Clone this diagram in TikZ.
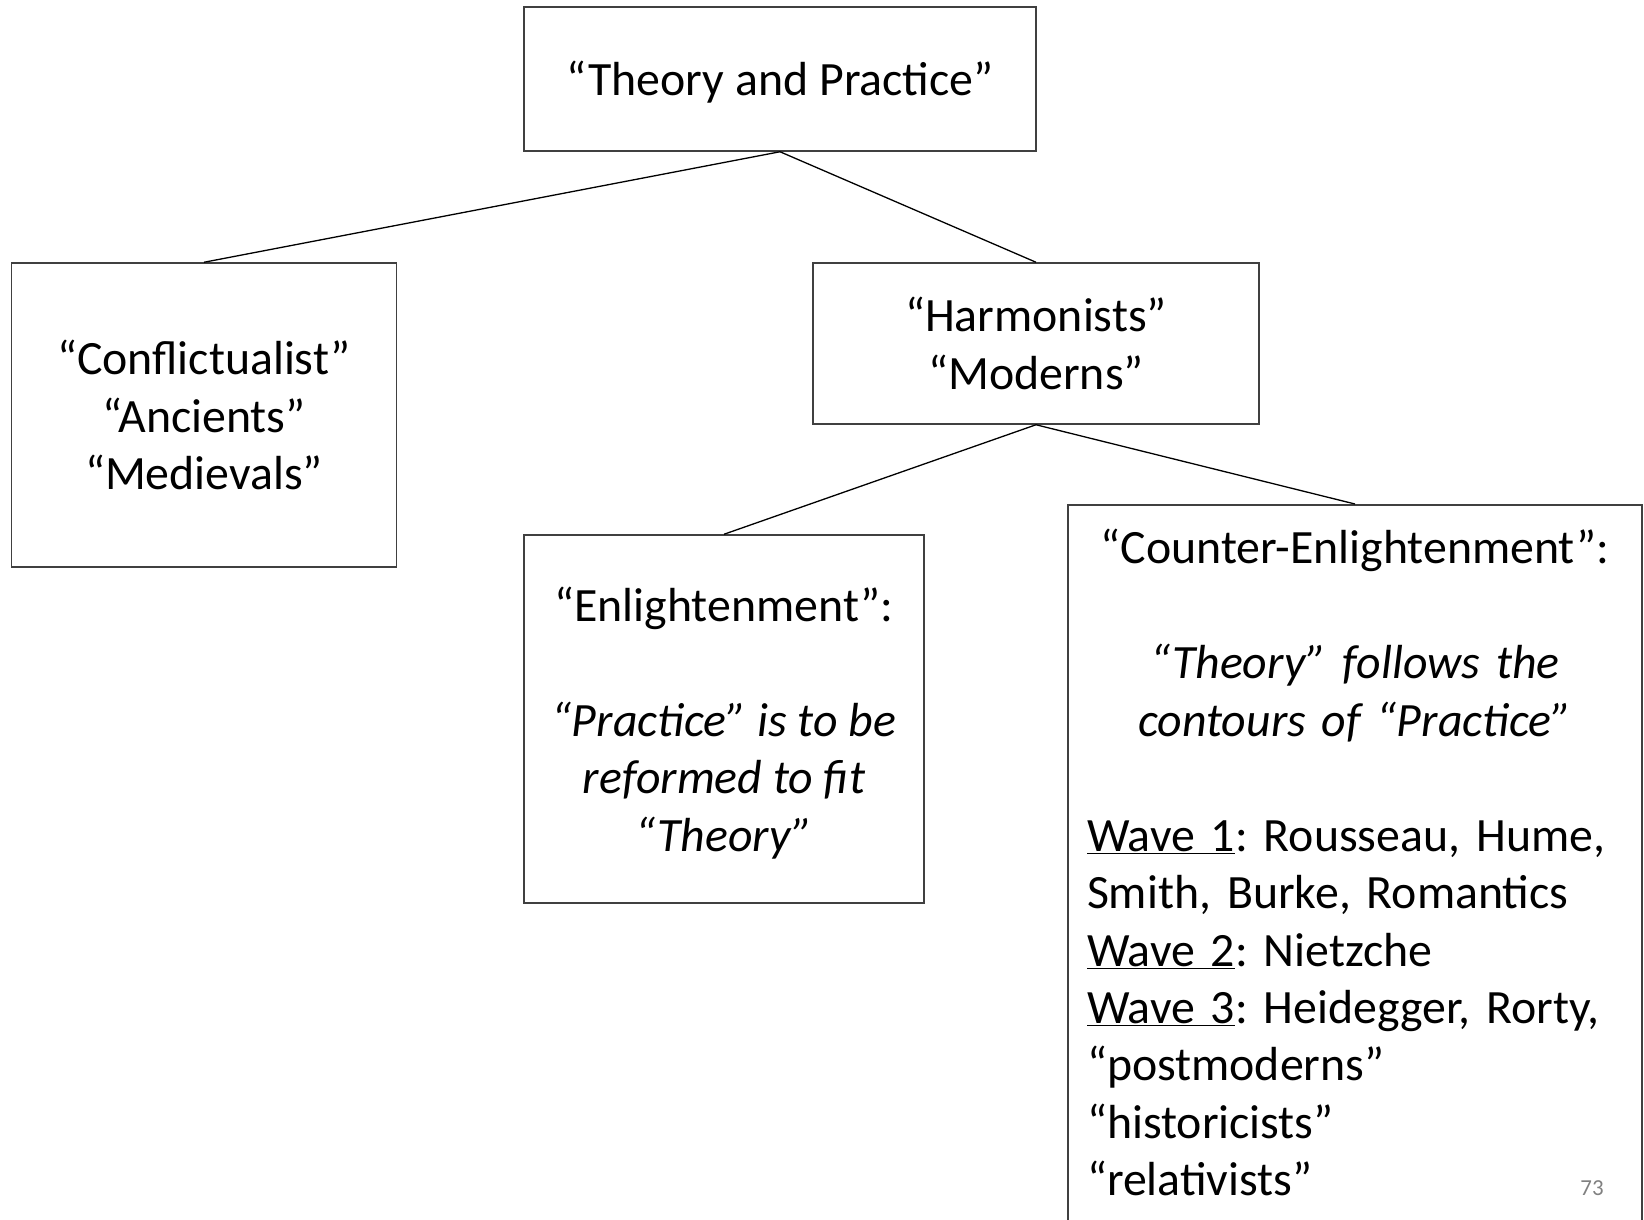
\documentclass[tikz,border=0pt]{standalone}
\usepackage{fontspec}
\setmainfont{Carlito}
\usepackage{tikz}
\frenchspacing

\begin{document}
\begin{tikzpicture}[x=1bp, y=-1bp, line width=1.3bp,
	box node/.style={rectangle, draw=black!75, line width=1.5bp, inner sep=0pt, font=\fontsize{48}{57.6}\selectfont},
	page node/.style={font=\fontsize{23}{27}\selectfont, text=black!50}]
	\useasboundingbox (0,0) rectangle (1644,1219);

	\node[box node, align=center, minimum width=512bp, minimum height=144bp] (theory) at (780,79) {\rule[-9.6bp]{0pt}{52.6bp}“Theory and Practice”};
	\node[box node, align=center, minimum width=385bp, minimum height=304bp] (ancients) at (204,415) {“Conflictualist”\\ “Ancients”\\ “Medievals”};
	\node[box node, align=center, minimum width=446bp, minimum height=161bp] (moderns) at (1036,343.5) {“Harmonists”\\ “Moderns”};
	\node[box node, align=center, minimum width=400bp, minimum height=368bp] (enlight) at (724,719) {\rule{0pt}{44bp}“Enlightenment”:\\[57.6bp] \itshape “Practice” is to be\\ \itshape reformed to fit\\ \itshape “Theory”\rule[-9.6bp]{0pt}{0pt}};
	\node[box node, anchor=north, text width=536bp, inner xsep=19bp, inner ysep=19bp] (counter) at (1355,504)
		{{\centering\strut “Counter-Enlightenment”:\\[57.6bp] \itshape “Theory” follows the\\ contours of “Practice”\par}
		\vspace{57.6bp}
		{\raggedright \underline{Wave 1}: Rousseau, Hume,\\ Smith, Burke, Romantics\\ \underline{Wave 2}: Nietzche\\ \underline{Wave 3}: Heidegger, Rorty,\\ “postmoderns”\\ “historicists”\\ “relativists”\rule[-80bp]{0pt}{0pt}\par}};
	\node[page node] (pagenum) at (1592,1188) {73};

	\path
		(theory.south) edge (ancients.north)
			edge (moderns.north)
		(moderns.south) edge (enlight.north)
			edge (counter.north);
\end{tikzpicture}
\end{document}
